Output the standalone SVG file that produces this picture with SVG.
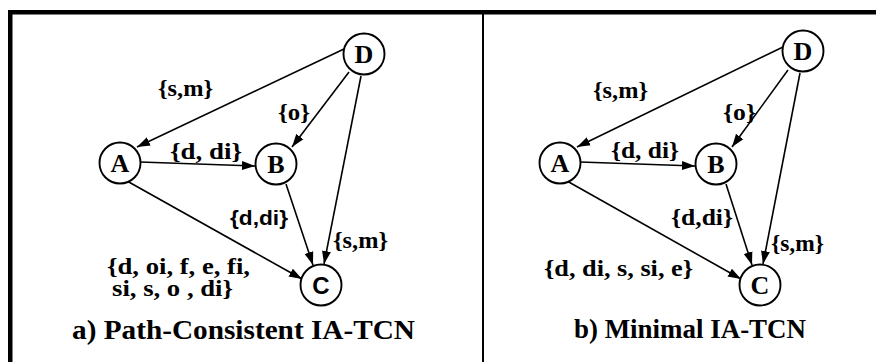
<svg xmlns="http://www.w3.org/2000/svg" width="876" height="362" viewBox="0 0 876 362">
  <style>
    .frame { fill: #000; }
    .node circle { fill: #fff; stroke: #000; stroke-width: 1.9; }
    .name { font-family: "Liberation Serif", "Times New Roman", serif; font-weight: bold; font-size: 26px; text-anchor: middle; fill: #000; }
    .name.sans { font-family: "Liberation Sans", Arial, sans-serif; font-size: 24px; }
    .edge { stroke: #000; stroke-width: 1.6; fill: none; marker-end: url(#arrow); }
    .lbl { font-family: "Liberation Serif", "Times New Roman", serif; font-weight: bold; font-size: 24px; fill: #000; }
    .lbl.sans { font-family: "Liberation Sans", Arial, sans-serif; font-size: 21px; }
    .title { font-family: "Liberation Serif", "Times New Roman", serif; font-weight: bold; font-size: 28px; fill: #000; }
  </style>
  <defs>
    <marker id="arrow" markerUnits="userSpaceOnUse" markerWidth="14" markerHeight="10" refX="13" refY="5" orient="auto">
      <path d="M0,0.5 L13,5 L0,9.5 z" fill="#000"/>
    </marker>
  </defs>

  <rect width="876" height="362" fill="#fff"/>

  <!-- frame: top rule, left rule, panel divider -->
  <g id="frame">
    <rect class="frame" x="8" y="10" width="868" height="4.5"/>
    <rect class="frame" x="8" y="10" width="4.5" height="352"/>
    <rect class="frame" x="482" y="12" width="2" height="350"/>
  </g>

  <!-- panel a -->
  <g id="panel-a">
    <g id="a-connectors">
      <line class="edge" x1="344" y1="49" x2="137" y2="147"/>
      <line class="edge" x1="349" y1="72" x2="292" y2="147"/>
      <line class="edge" x1="361" y1="76" x2="324" y2="264"/>
      <line class="edge" x1="140" y1="162" x2="255" y2="166"/>
      <line class="edge" x1="127" y1="181" x2="302" y2="279"/>
      <line class="edge" x1="286" y1="184" x2="313" y2="265"/>
      <text class="lbl" x="158" y="96" textLength="55" lengthAdjust="spacingAndGlyphs">{s,m}</text>
      <text class="lbl" x="278" y="120" textLength="32" lengthAdjust="spacingAndGlyphs">{o}</text>
      <text class="lbl" x="170" y="159" textLength="72" lengthAdjust="spacingAndGlyphs">{d, di}</text>
      <text class="lbl sans" x="230" y="225" textLength="58" lengthAdjust="spacingAndGlyphs">{d,di}</text>
      <text class="lbl" x="333" y="248" textLength="55" lengthAdjust="spacingAndGlyphs">{s,m}</text>
      <text class="lbl" x="107" y="274" textLength="143" lengthAdjust="spacingAndGlyphs">{d, oi, f, e, fi,</text>
      <text class="lbl" x="112" y="296" textLength="121" lengthAdjust="spacingAndGlyphs">si, s, o , di}</text>
    </g>
    <g id="a-node-A" class="node"><circle cx="120" cy="163" r="20.5"/><text class="name" x="120" y="172">A</text></g>
    <g id="a-node-B" class="node"><circle cx="276" cy="164" r="20.5"/><text class="name" x="276" y="173">B</text></g>
    <g id="a-node-C" class="node"><circle cx="321" cy="285" r="20.5"/><text class="name sans" x="321" y="294">C</text></g>
    <g id="a-node-D" class="node"><circle cx="364" cy="54" r="20.5"/><text class="name" x="364" y="63">D</text></g>
    <text class="title" x="72" y="339" textLength="343" lengthAdjust="spacingAndGlyphs">a) Path-Consistent IA-TCN</text>
  </g>

  <!-- panel b -->
  <g id="panel-b">
    <g id="b-connectors">
      <line class="edge" x1="783" y1="47" x2="577" y2="147"/>
      <line class="edge" x1="788" y1="70" x2="732" y2="147"/>
      <line class="edge" x1="800" y1="73" x2="763" y2="264"/>
      <line class="edge" x1="580" y1="162" x2="695" y2="166"/>
      <line class="edge" x1="567" y1="181" x2="741" y2="279"/>
      <line class="edge" x1="726" y1="184" x2="752" y2="265"/>
      <text class="lbl" x="593" y="98" textLength="55" lengthAdjust="spacingAndGlyphs">{s,m}</text>
      <text class="lbl" x="723" y="120" textLength="33" lengthAdjust="spacingAndGlyphs">{o}</text>
      <text class="lbl" x="611" y="158" textLength="68" lengthAdjust="spacingAndGlyphs">{d, di}</text>
      <text class="lbl" x="671" y="225" textLength="62" lengthAdjust="spacingAndGlyphs">{d,di}</text>
      <text class="lbl" x="771" y="251" textLength="53" lengthAdjust="spacingAndGlyphs">{s,m}</text>
      <text class="lbl" x="544" y="276" textLength="149" lengthAdjust="spacingAndGlyphs">{d, di, s, si, e}</text>
    </g>
    <g id="b-node-A" class="node"><circle cx="560" cy="163" r="20.5"/><text class="name" x="560" y="172">A</text></g>
    <g id="b-node-B" class="node"><circle cx="716" cy="164" r="20.5"/><text class="name" x="716" y="173">B</text></g>
    <g id="b-node-C" class="node"><circle cx="760" cy="285" r="20.5"/><text class="name" x="760" y="294">C</text></g>
    <g id="b-node-D" class="node"><circle cx="803" cy="51" r="20.5"/><text class="name" x="803" y="60">D</text></g>
    <text class="title" x="574" y="338" textLength="232" lengthAdjust="spacingAndGlyphs">b) Minimal IA-TCN</text>
  </g>
</svg>
